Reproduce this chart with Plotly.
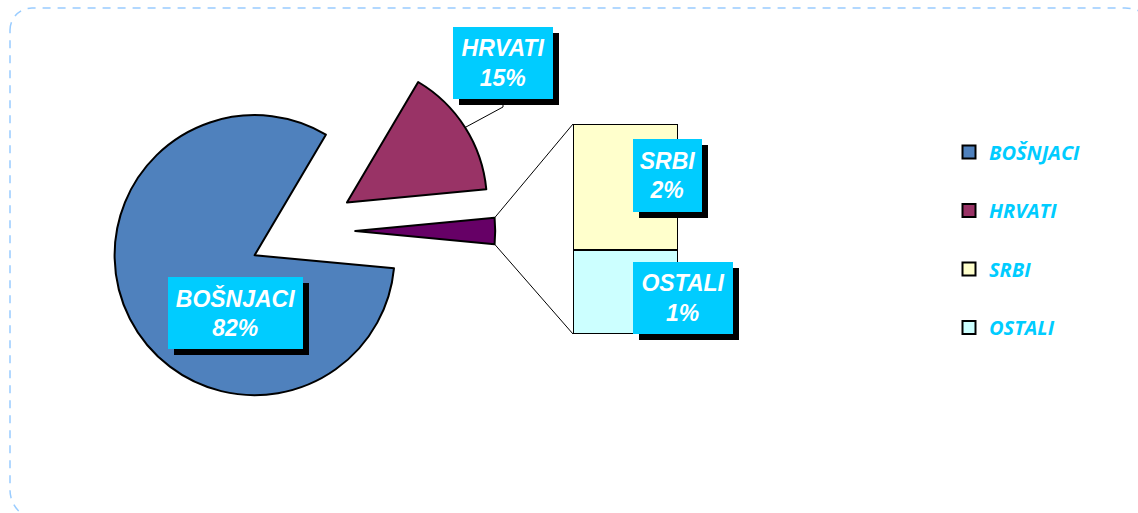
import math
import plotly.graph_objects as go

# ---------------- data ----------------
categories = ["BOŠNJACI", "HRVATI", "SRBI", "OSTALI"]
values = [82, 15, 1.8, 1.2]
pct_labels = ["82%", "15%", "2%", "1%"]
colors = ["#4F81BD", "#993366", "#FFFFCC", "#CCFFFF"]
other_slice_color = "#660066"

# ---------------- layout constants (pixels) ----------------
W, H = 1138, 513
CX, CY, R, PULL = 302, 231, 140, 0.38          # pie centre / radius / explosion
BAR_X0, BAR_X1, BAR_Y0, BAR_Y1 = 573, 678, 124, 334  # bar of pie box

def px(x):
    return x / W

def py(y):
    return 1 - y / H

total = sum(values)
other_total = values[2] + values[3]

fig = go.Figure()

# ---------------- pie (BOŠNJACI, HRVATI, combined other) ----------------
pie_labels = [categories[1], "other", categories[0]]
pie_values = [values[1], other_total, values[0]]
pie_colors = [colors[1], other_slice_color, colors[0]]
# other slice centred at 3 o'clock
start_math_deg = (other_total / 2 + values[1]) / total * 360
rotation = 90 - start_math_deg
half = R * (1 + PULL)
fig.add_trace(go.Pie(
    labels=pie_labels, values=pie_values, sort=False, direction="clockwise",
    rotation=rotation, pull=[PULL] * 3, textinfo="none", showlegend=False,
    marker=dict(colors=pie_colors, line=dict(color="black", width=2)),
    domain=dict(x=[px(CX - half), px(CX + half)], y=[py(CY + half), py(CY - half)]),
    hoverinfo="label+percent",
))

# ---------------- bar of pie (stacked) ----------------
fig.add_trace(go.Bar(x=[0], y=[values[3]], width=1, name=categories[3], showlegend=False,
                     marker=dict(color=colors[3], line=dict(color="black", width=2))))
fig.add_trace(go.Bar(x=[0], y=[values[2]], width=1, name=categories[2], showlegend=False,
                     marker=dict(color=colors[2], line=dict(color="black", width=2))))

# ---------------- legend entries ----------------
for i, (c, col) in enumerate(zip(categories, colors)):
    fig.add_trace(go.Scatter(
        x=[None], y=[None], mode="markers", name=c, legendgroup=c,
        marker=dict(symbol="square", size=13, color=col, line=dict(color="black", width=2)),
    ))

xdom = [px(BAR_X0), px(BAR_X1)]
ydom = [py(BAR_Y1), py(BAR_Y0)]

# ---------------- connectors ----------------
shapes = []
a = math.radians(other_total / 2 / total * 360)
ox = CX + PULL * R
p_top = (ox + R * math.cos(a), CY - R * math.sin(a))
p_bot = (ox + R * math.cos(a), CY + R * math.sin(a))
for (sx, sy), by in [(p_top, BAR_Y0), (p_bot, BAR_Y1)]:
    shapes.append(dict(type="line", xref="paper", yref="paper",
                       x0=px(sx), y0=py(sy), x1=px(BAR_X0), y1=py(by),
                       line=dict(color="black", width=1)))

# HRVATI leader line to arc midpoint
mid = math.radians((other_total / 2 + values[1] / 2) / total * 360)
arc_x = CX + (1 + PULL) * R * math.cos(mid)
arc_y = CY - (1 + PULL) * R * math.sin(mid)
hr_cx, hr_cy, hr_h = 503, 63, 72
shapes.append(dict(type="path", xref="paper", yref="paper",
                   path=f"M {px(hr_cx)} {py(hr_cy + hr_h/2)} L {px(hr_cx)} {py(hr_cy + hr_h/2 + 8)} L {px(arc_x)} {py(arc_y)}",
                   line=dict(color="black", width=1)))

# dashed rounded frame (per-corner radii: tl, tr, br, bl)
fx0, fy0, fx1, fy1 = 10, 8, 1160, 520
r_tl, r_tr, r_br, r_bl = 22, 35, 30, 30
k = 0.45
frame = (f"M {px(fx0)} {py(fy0 + r_tl)} "
         f"C {px(fx0)} {py(fy0 + r_tl*k)} {px(fx0 + r_tl*k)} {py(fy0)} {px(fx0 + r_tl)} {py(fy0)} "
         f"L {px(fx1 - r_tr)} {py(fy0)} "
         f"C {px(fx1 - r_tr*k)} {py(fy0)} {px(fx1)} {py(fy0 + r_tr*k)} {px(fx1)} {py(fy0 + r_tr)} "
         f"L {px(fx1)} {py(fy1 - r_br)} "
         f"C {px(fx1)} {py(fy1 - r_br*k)} {px(fx1 - r_br*k)} {py(fy1)} {px(fx1 - r_br)} {py(fy1)} "
         f"L {px(fx0 + r_bl)} {py(fy1)} "
         f"C {px(fx0 + r_bl*k)} {py(fy1)} {px(fx0)} {py(fy1 - r_bl*k)} {px(fx0)} {py(fy1 - r_bl)} Z")
shapes.append(dict(type="path", xref="paper", yref="paper", path=frame,
                   line=dict(color="#99CCFF", width=1.5, dash="8px,7px"), layer="below"))

# ---------------- data labels ----------------
annotations = []
label_boxes = {  # centre x, centre y, text width, text height
    "BOŠNJACI": (235.5, 313, 125, 62),
    "HRVATI": (hr_cx, hr_cy, 90, 62),
    "SRBI": (667.5, 175.5, 59, 63),
    "OSTALI": (683, 298, 90, 62),
}
lab_font = dict(family="Liberation Sans, Arial", size=23, weight="bold", style="italic")
for c, p in zip(categories, pct_labels):
    bx, by, bw, bh = label_boxes[c]
    txt = f"{c}<br>{p}"
    annotations.append(dict(xref="paper", yref="paper", x=px(bx + 6), y=py(by + 6),
                            text=txt, showarrow=False, xanchor="center", yanchor="middle",
                            width=bw, height=bh, borderpad=5, borderwidth=0,
                            bgcolor="black", font=dict(lab_font, color="black")))
    annotations.append(dict(xref="paper", yref="paper", x=px(bx), y=py(by),
                            text=txt, showarrow=False, xanchor="center", yanchor="middle",
                            width=bw, height=bh, borderpad=5, borderwidth=0,
                            bgcolor="#00CCFF", font=dict(lab_font, color="white")))

fig.update_layout(
    width=W, height=H,
    margin=dict(l=0, r=0, t=0, b=0),
    paper_bgcolor="white", plot_bgcolor="rgba(0,0,0,0)",
    barmode="stack", bargap=0,
    xaxis=dict(domain=xdom, range=[-0.5, 0.5], visible=False),
    yaxis=dict(domain=ydom, range=[0, other_total], visible=False),
    shapes=shapes, annotations=annotations,
    legend=dict(x=px(949), y=py(152 - 19.5), xanchor="left", yanchor="top",
                tracegroupgap=29.5, bgcolor="rgba(0,0,0,0)",
                font=dict(family="Open Sans", size=20, color="#00CCFF", weight="bold", style="italic")),
)

fig.write_html("out.html", config={"displayModeBar": False},
               post_script="document.body.style.margin='0px';")
